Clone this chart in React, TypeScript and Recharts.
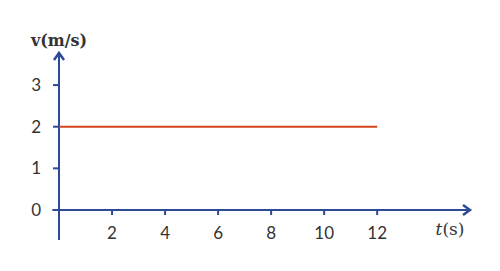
import React from 'react';
import { LineChart, Line, XAxis, YAxis, ReferenceLine, Customized } from 'recharts';

const times = [0, 12];
const velocities = [2, 2];
const xTicks = [2, 4, 6, 8, 10, 12];
const yTicks = [0, 1, 2, 3];

const data = times.map((t, i) => ({ t, v: velocities[i] }));

const AXIS = '#2c4a98';
const TEXT = '#333333';
const SERIF = '"DejaVu Serif", serif';
const TICKFONT = 'Lato, sans-serif';

const ArrowLine = (dir: 'right' | 'up') => (props: any) => {
  const { x1, y1, x2, y2 } = props;
  const a = 7;
  const w = 5;
  const head =
    dir === 'right'
      ? `M${x2 - a},${y2 - w} L${x2},${y2} L${x2 - a},${y2 + w}`
      : `M${x1 - w},${y1 + a} L${x1},${y1} L${x1 + w},${y1 + a}`;
  return (
    <g>
      <line x1={x1} y1={y1} x2={x2} y2={y2} stroke={AXIS} strokeWidth={2} />
      <path d={head} fill="none" stroke={AXIS} strokeWidth={2.5} strokeLinejoin="miter" />
    </g>
  );
};

const Titles = () => (
  <g>
    <text x={59} y={46} textAnchor="middle" fontFamily={SERIF} fontWeight="bold" fontSize={16} fill={TEXT}>
      v(m/s)
    </text>
    <text x={450} y={235} textAnchor="middle" fontFamily={SERIF} fontSize={17} fill={TEXT}>
      <tspan fontStyle="italic">t</tspan>(s)
    </text>
  </g>
);

export default function App() {
  return (
    <div style={{ position: 'absolute', left: 0, top: 0, background: '#fff' }}>
      <LineChart width={500} height={271} data={data} margin={{ top: 53, right: 30, left: 0, bottom: 0 }}>
        <XAxis
          dataKey="t"
          type="number"
          domain={[0, 15.5]}
          ticks={xTicks}
          axisLine={false}
          tickLine={{ stroke: AXIS, strokeWidth: 2 }}
          tickSize={5}
          tickMargin={12}
          height={61}
          tick={{ fill: TEXT, fontFamily: TICKFONT, fontSize: 17 }}
          allowDataOverflow
        />
        <YAxis
          type="number"
          domain={[0, 3.77]}
          ticks={yTicks}
          axisLine={false}
          tickLine={{ stroke: AXIS, strokeWidth: 2 }}
          tickSize={6}
          tickMargin={12}
          width={59}
          tick={{ fill: TEXT, fontFamily: TICKFONT, fontSize: 17 }}
          allowDataOverflow
        />
        <ReferenceLine
          segment={[{ x: -0.25, y: 0 }, { x: 15.5, y: 0 }]}
          ifOverflow="visible"
          shape={ArrowLine('right')}
        />
        <ReferenceLine
          segment={[{ x: 0, y: 3.77 }, { x: 0, y: -0.72 }]}
          ifOverflow="visible"
          shape={ArrowLine('up')}
        />
        <Line
          dataKey="v"
          stroke="#d4441c"
          strokeWidth={2}
          dot={false}
          isAnimationActive={false}
        />
        <Customized component={Titles} />
      </LineChart>
    </div>
  );
}
